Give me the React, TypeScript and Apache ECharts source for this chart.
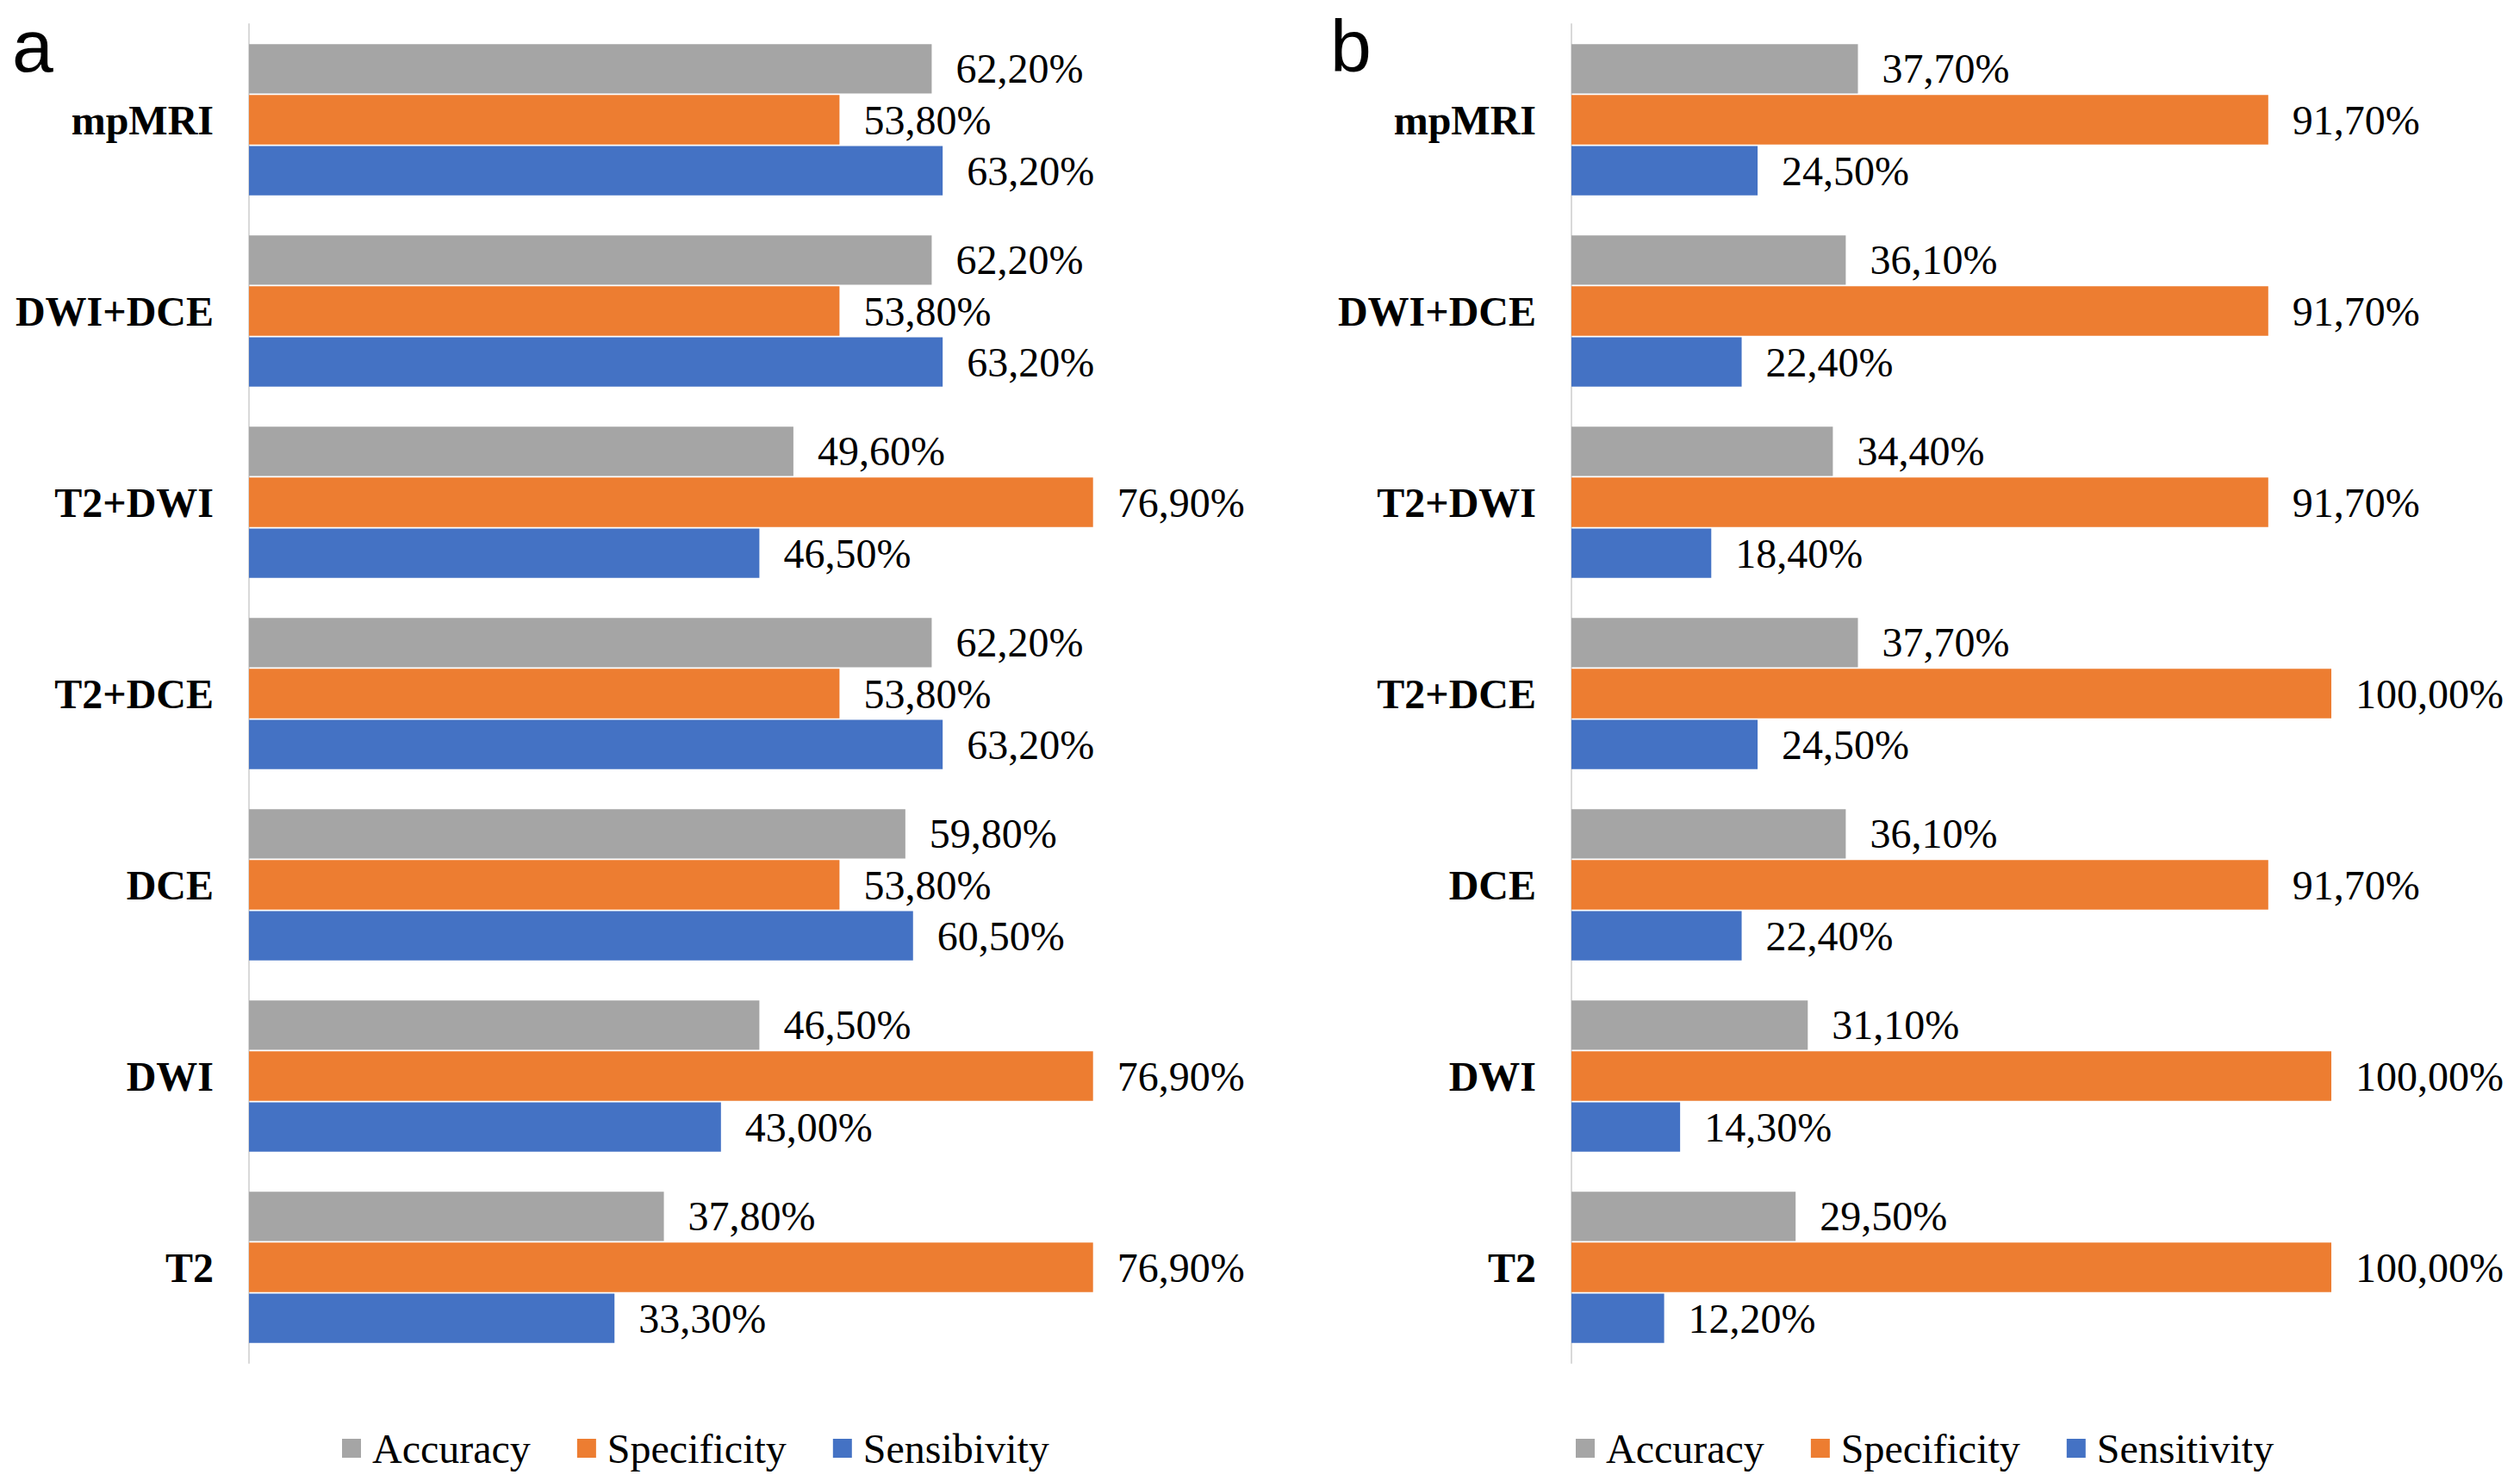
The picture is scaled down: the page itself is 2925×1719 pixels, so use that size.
import React, { useEffect, useRef } from "react";
import * as echarts from "echarts";

const categories = ["mpMRI", "DWI+DCE", "T2+DWI", "T2+DCE", "DCE", "DWI", "T2"];

const accuracyA = [62.2, 62.2, 49.6, 62.2, 59.8, 46.5, 37.8];
const specificityA = [53.8, 53.8, 76.9, 53.8, 53.8, 76.9, 76.9];
const sensibivityA = [63.2, 63.2, 46.5, 63.2, 60.5, 43.0, 33.3];

const accuracyB = [37.7, 36.1, 34.4, 37.7, 36.1, 31.1, 29.5];
const specificityB = [91.7, 91.7, 91.7, 100, 91.7, 100, 100];
const sensitivityB = [24.5, 22.4, 18.4, 24.5, 22.4, 14.3, 12.2];

const GRAY = "#A5A5A5";
const ORANGE = "#ED7D31";
const BLUE = "#4472C4";
const SERIF = "'Liberation Serif', 'Times New Roman', serif";
const SANS = "'Liberation Sans', Arial, sans-serif";

const fmt = (p: any) => Number(p.value).toFixed(2).replace(".", ",") + "%";

function makeSeries(name: string, data: number[], color: string, idx: number) {
  return {
    type: "bar",
    name,
    data,
    xAxisIndex: idx,
    yAxisIndex: idx,
    barCategoryGap: "21%",
    barGap: "3%",
    itemStyle: { color },
    label: {
      show: true,
      position: "right",
      distance: 28,
      formatter: fmt,
      fontFamily: SERIF,
      fontSize: 48,
      color: "#000",
    },
  };
}

export default function App() {
  const ref = useRef<HTMLDivElement>(null);
  useEffect(() => {
    if (!ref.current) return;
    const chart = echarts.init(ref.current, undefined, { renderer: "svg" });
    const gridTop = 28;
    const gridHeight = 1554;
    const yAxisCommon = (idx: number) => ({
      type: "category",
      gridIndex: idx,
      data: categories,
      inverse: true,
      axisTick: { show: false },
      axisLine: { show: true, lineStyle: { color: "#D9D9D9", width: 2 } },
      axisLabel: {
        margin: 41,
        fontFamily: SERIF,
        fontWeight: "bold",
        fontSize: 48,
        color: "#000",
      },
      splitLine: { show: false },
    });
    const xAxisCommon = (idx: number) => ({
      type: "value",
      gridIndex: idx,
      min: 0,
      max: 100,
      show: false,
      splitLine: { show: false },
    });
    const legendCommon = {
      icon: "rect",
      itemWidth: 22,
      itemHeight: 22,
      itemGap: 54,
      top: 1652,
      textStyle: {
        fontFamily: SERIF,
        fontSize: 48,
        color: "#000",
        padding: [0, 0, 0, 8],
      },
    };
    chart.setOption({
      animation: false,
      backgroundColor: "#fff",
      grid: [
        { left: 289, width: 1274, top: gridTop, height: gridHeight },
        { left: 1824, width: 882, top: gridTop, height: gridHeight },
      ],
      xAxis: [xAxisCommon(0), xAxisCommon(1)],
      yAxis: [yAxisCommon(0), yAxisCommon(1)],
      legend: [
        { ...legendCommon, left: 392, data: ["Accuracy", "Specificity", "Sensibivity"] },
        { ...legendCommon, left: 1824, data: ["Accuracy", "Specificity", "Sensitivity"] },
      ],
      graphic: [
        {
          type: "text",
          left: 14,
          top: 10,
          style: { text: "a", fontFamily: SANS, fontSize: 86, fill: "#000" },
        },
        {
          type: "text",
          left: 1544,
          top: 10,
          style: { text: "b", fontFamily: SANS, fontSize: 86, fill: "#000" },
        },
      ],
      series: [
        makeSeries("Accuracy", accuracyA, GRAY, 0),
        makeSeries("Specificity", specificityA, ORANGE, 0),
        makeSeries("Sensibivity", sensibivityA, BLUE, 0),
        makeSeries("Accuracy", accuracyB, GRAY, 1),
        makeSeries("Specificity", specificityB, ORANGE, 1),
        makeSeries("Sensitivity", sensitivityB, BLUE, 1),
      ],
    });
    return () => chart.dispose();
  }, []);
  return (
    <div
      ref={ref}
      style={{ position: "fixed", left: 0, top: 0, width: 2925, height: 1719 }}
    />
  );
}
